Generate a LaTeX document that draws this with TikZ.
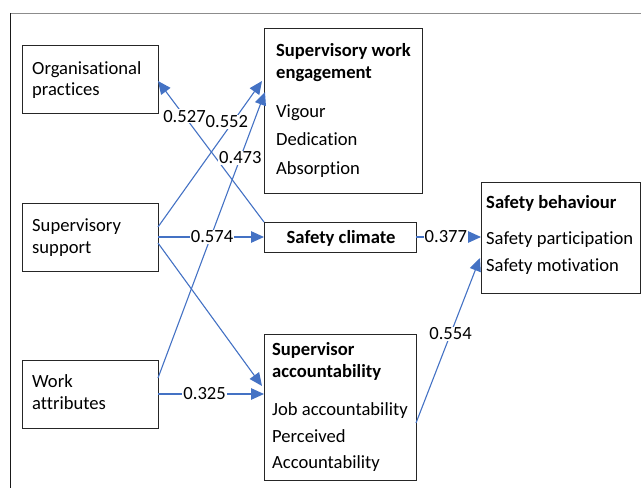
\documentclass[tikz,border=0pt]{standalone}
\usepackage{fontspec}
\setmainfont{Carlito}[Ligatures={NoCommon}]
\usetikzlibrary{arrows.meta}
\definecolor{linkblue}{HTML}{4472C4}
\begin{document}
\begin{tikzpicture}[x=1pt,y=-1pt,
  every node/.style={font=\fontsize{18.6}{22}\selectfont},
  box/.style={draw=black!85,line width=0.9pt,inner sep=0pt,outer sep=0pt,anchor=north west},
  txt/.style={inner sep=0pt,anchor=base west},
  hd/.style={txt,font=\fontsize{18.6}{22}\selectfont\bfseries},
  conn/.style={draw=linkblue,line width=1.1pt,-{Triangle[length=13pt,width=11.5pt]}},
  coef/.style={fill=white,inner sep=1pt,text=black}]
\useasboundingbox (0,0) rectangle (641,488);
% outer frame
\draw[black!45,line width=1.3pt] (10,13.5) -- (641,13.5);
\draw[black!90,line width=1.1pt] (10.5,13) -- (10.5,488);

% boxes
\node[box,minimum width=136pt,minimum height=68pt] (org) at (22,45) {};
\node[box,minimum width=136pt,minimum height=68pt] (ss) at (22,203) {};
\node[box,minimum width=136pt,minimum height=68pt] (wa) at (22,360) {};
\node[box,minimum width=158pt,minimum height=165pt] (swe) at (264,28) {};
\node[box,minimum width=152pt,minimum height=30pt] (sc) at (264,222) {};
\node[box,minimum width=152pt,minimum height=146pt] (sa) at (264,334) {};
\node[box,minimum width=159pt,minimum height=111pt] (sb) at (481,182) {};

% box texts
\node[txt] (org1) at (32,74) {Organisational};
\node[txt] (org2) at (32,95.5) {practices};
\node[txt] (ss1) at (32,231.5) {Supervisory};
\node[txt] (ss2) at (32,253.5) {support};
\node[txt] (wa1) at (32,387.5) {Work};
\node[txt] (wa2) at (32,409.5) {attributes};
\node[hd] (swe1) at (276,56.5) {Supervisory work};
\node[hd] (swe2) at (276,78) {engagement};
\node[txt] (swe3) at (276,117) {Vigour};
\node[txt] (swe4) at (276,145.5) {Dedication};
\node[txt] (swe5) at (276,174) {Absorption};
\node[hd,anchor=base] (sc1) at (341,243) {Safety climate};
\node[hd] (sa1) at (272,355) {Supervisor};
\node[hd] (sa2) at (272,377) {accountability};
\node[txt] (sa3) at (272,415) {Job accountability};
\node[txt] (sa4) at (272,442) {Perceived};
\node[txt] (sa5) at (272,468) {Accountability};
\node[hd] (sb1) at (486,208) {Safety behaviour};
\node[txt] (sb2) at (486,244) {Safety participation};
\node[txt] (sb3) at (486,271.5) {Safety motivation};

% paths with coefficients
\draw[conn] (sc.north west) -- ([yshift=-2pt]org.east)
  node[coef,pos=0.75] (c1) {0.527};
\draw[conn] ([yshift=10pt]ss.east) -- ([xshift=-2pt,yshift=-53pt]swe.north west)
  node[coef,pos=0.72,xshift=-6pt] (c2) {0.552};
\draw[conn] ([yshift=16pt]wa.east) -- ([xshift=1pt,yshift=-64pt]swe.north west)
  node[coef,pos=0.77] (c3) {0.473};
\draw[conn] (ss.east) -- (sc.west)
  node[coef,pos=0.51] (c4) {0.574};
\draw[conn] ([yshift=-6pt]ss.east) -- ([xshift=-2pt,yshift=-52pt]sa.north west);
\draw[conn] (wa.east) -- (wa.east -| sa.west)
  node[coef,pos=0.44] (c5) {0.325};
\draw[conn] (sc.east) -- (sc.east -| sb.west)
  node[coef,pos=0.46] (c6) {0.377};
\draw[conn] ([yshift=-16pt]sa.east) -- ([xshift=-1pt,yshift=-20.5pt]sb.west)
  node[coef,pos=0.54] (c7) {0.554};
\end{tikzpicture}
\end{document}
